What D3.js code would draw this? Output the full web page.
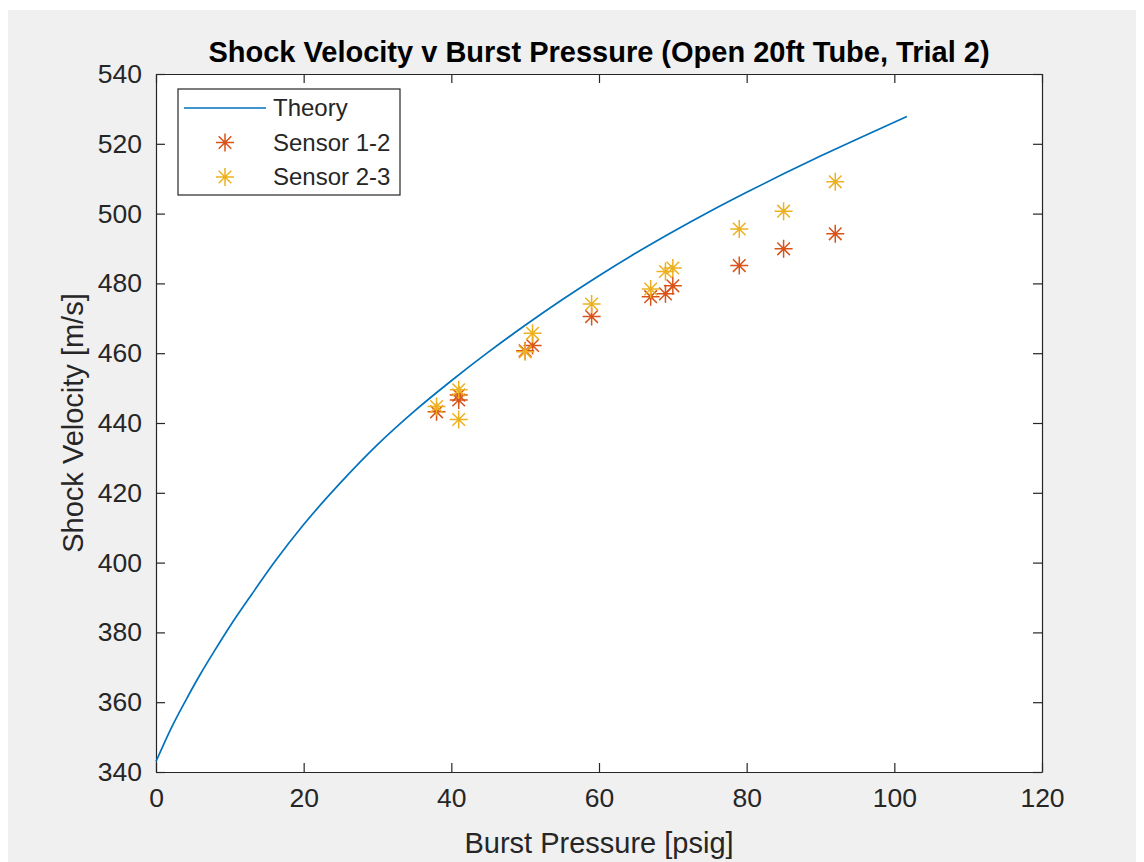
<!DOCTYPE html>
<html>
<head>
<meta charset="utf-8">
<script src="https://cdn.jsdelivr.net/npm/d3@7"></script>
<style>
  body { margin: 0; background: #fff; }
  svg { display: block; }
  text { font-family: "Liberation Sans", Arial, sans-serif; }
</style>
</head>
<body>
<div id="content"></div>
<script>
// theory curve
var theoryP = [0, 2, 4, 6, 8, 10, 13, 16, 20, 25, 30, 35, 40, 45, 50, 55, 60, 65, 70, 75, 80, 85, 90, 95, 101.7];
var theoryV = [343.0, 352.3, 360.4, 368.0, 375.0, 381.7, 391.0, 400.0, 410.9, 422.9, 433.8, 443.4, 452.1,
               460.3, 468.0, 475.3, 482.2, 488.7, 494.8, 500.6, 506.1, 511.4, 516.5, 521.4, 527.8];

// measured points
var burstP = [38, 41, 41, 50, 51, 59, 67, 69, 70, 79, 85, 92];
var sensor12 = [443.2, 448.0, 446.6, 460.7, 462.2, 470.5, 476.2, 477.0, 479.3, 485.1, 489.9, 494.2];
var sensor23 = [444.7, 449.5, 441.0, 460.4, 465.7, 474.1, 478.4, 483.4, 484.4, 495.6, 500.7, 509.1];

var xTicks = [0, 20, 40, 60, 80, 100, 120];
var yTicks = [340, 360, 380, 400, 420, 440, 460, 480, 500, 520, 540];

var W = 1144, H = 862;
var margin = {top: 74, right: 102, bottom: 90, left: 156}; // plot box 156..1042 x 74..772
var width = W - margin.left - margin.right
  , height = H - margin.top - margin.bottom;

var axisCol = "#262626";
var colTheory = "#0072BD", col12 = "#D95319", col23 = "#EDB120";

var svg = d3.select("#content").append("svg")
    .attr("width", W)
    .attr("height", H);

// figure background
svg.append("rect").attr("x", 8).attr("y", 10).attr("width", 1128).attr("height", H - 10)
    .style("fill", "#f0f0f0");

var g = svg.append("g")
    .attr("transform", "translate(" + margin.left + "," + margin.top + ")");

g.append("rect").attr("width", width).attr("height", height).style("fill", "#fff");

var xScale = d3.scaleLinear().domain([0, 120]).range([0, width]);
var yScale = d3.scaleLinear().domain([340, 540]).range([height, 0]);

var tick = 9;

// axes (ticks pointing inward, box on)
g.append("g")
    .attr("transform", "translate(0," + height + ")")
    .call(d3.axisBottom(xScale).tickValues(xTicks).tickSize(-tick).tickPadding(16).tickSizeOuter(0));
g.append("g")
    .call(d3.axisLeft(yScale).tickValues(yTicks).tickSize(-tick).tickPadding(14).tickSizeOuter(0));
g.append("g")
    .call(d3.axisTop(xScale).tickValues(xTicks).tickSize(-tick).tickFormat("").tickSizeOuter(0));
g.append("g")
    .attr("transform", "translate(" + width + ",0)")
    .call(d3.axisRight(yScale).tickValues(yTicks).tickSize(-tick).tickFormat("").tickSizeOuter(0));

g.selectAll(".domain").style("stroke", axisCol).style("stroke-width", 1.2);
g.selectAll(".tick line").style("stroke", axisCol).style("stroke-width", 1.2);
g.selectAll(".tick text").style("fill", axisCol).style("font-size", "26.5px")
    .style("font-family", "'Liberation Sans', Arial, sans-serif");

// theory line
var theory = theoryP.map(function(p, i) { return {x: p, y: theoryV[i]}; });
var line = d3.line()
    .x(function(d) { return xScale(d.x); })
    .y(function(d) { return yScale(d.y); })
    .curve(d3.curveMonotoneX);

g.append("path")
    .datum(theory)
    .attr("d", line)
    .style("fill", "none")
    .style("stroke", colTheory)
    .style("stroke-width", 1.7);

// asterisk marker
function star(r) {
  var d = r * 0.7;
  return "M" + (-r) + ",0L" + r + ",0M0," + (-r) + "L0," + r +
         "M" + (-d) + "," + (-d) + "L" + d + "," + d +
         "M" + (-d) + "," + d + "L" + d + "," + (-d);
}

function points(vals, col) {
  g.append("g").selectAll("path")
    .data(vals)
    .enter().append("path")
    .attr("transform", function(d, i) { return "translate(" + xScale(burstP[i]) + "," + yScale(d) + ")"; })
    .attr("d", star(9))
    .style("fill", "none")
    .style("stroke", col)
    .style("stroke-width", 1.5);
}
points(sensor12, col12);
points(sensor23, col23);

// title and labels
svg.append("text")
    .attr("x", margin.left + width / 2).attr("y", 62)
    .attr("text-anchor", "middle")
    .style("font-size", "29px").style("font-weight", "bold").style("fill", "#000")
    .text("Shock Velocity v Burst Pressure (Open 20ft Tube, Trial 2)");

svg.append("text")
    .attr("x", margin.left + width / 2).attr("y", 853)
    .attr("text-anchor", "middle")
    .style("font-size", "29px").style("fill", axisCol)
    .text("Burst Pressure [psig]");

svg.append("text")
    .attr("transform", "translate(83," + (margin.top + height / 2) + ") rotate(-90)")
    .attr("text-anchor", "middle")
    .style("font-size", "29px").style("fill", axisCol)
    .text("Shock Velocity [m/s]");

// legend
var leg = svg.append("g");
leg.append("rect").attr("x", 178).attr("y", 89).attr("width", 222).attr("height", 106)
    .style("fill", "#fff").style("stroke", axisCol).style("stroke-width", 1.2);
var legItems = [
  {name: "Theory", col: colTheory, type: "line"},
  {name: "Sensor 1-2", col: col12, type: "star"},
  {name: "Sensor 2-3", col: col23, type: "star"}
];
legItems.forEach(function(it, i) {
  var y = 108 + i * 34.5;
  if (it.type == "line") {
    leg.append("line").attr("x1", 184).attr("x2", 266).attr("y1", y).attr("y2", y)
      .style("stroke", it.col).style("stroke-width", 1.7);
  } else {
    leg.append("path").attr("transform", "translate(225," + y + ")").attr("d", star(9))
      .style("fill", "none").style("stroke", it.col).style("stroke-width", 1.5);
  }
  leg.append("text").attr("x", 273).attr("y", y).attr("dy", "0.35em")
    .style("font-size", "24px").style("fill", axisCol)
    .text(it.name);
});
</script>
</body>
</html>
